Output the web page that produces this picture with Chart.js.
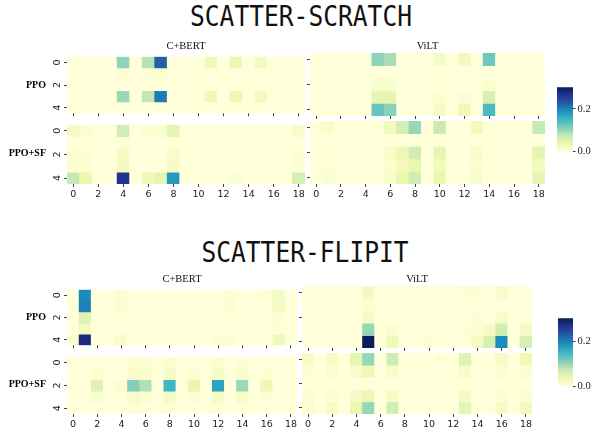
<!DOCTYPE html>
<html><head><meta charset="utf-8">
<script src="https://cdn.jsdelivr.net/npm/chart.js@4.4.1/dist/chart.umd.min.js"></script>
<style>
html,body{margin:0;padding:0;background:#fff;}
#root{position:relative;width:594px;height:430px;overflow:hidden;background:#fff;}
canvas{position:absolute;}
.t{position:absolute;white-space:nowrap;line-height:1;color:#111;}
.title{font-family:'DejaVu Sans Mono';font-size:27.5px;}
.sub{font-family:'Liberation Serif';font-size:10.5px;}
.row{font-family:'Liberation Serif';font-weight:bold;font-size:10px;color:#000;}
</style></head>
<body><div id="root"></div>
<script>
// ---------------- data ----------------
const colLabels = ['0','1','2','3','4','5','6','7','8','9','10','11','12','13','14','15','16','17','18'];
const rowTickRows = [0, 2, 4];
const cbarTicks = [0.0, 0.2];
const VMAX = 0.3;

const scratchBertPPO = [
 [0,0,0,0,0.104,0,0.084,0.223,0,0,0,0.030,0,0.035,0,0.025,0,0,0],
 [0,0,0,0,0.005,0,0.005,0.010,0,0,0,0,0,0,0,0,0,0,0],
 [0,0,0,0,0,0,0,0,0,0,0,0,0,0,0,0,0,0,0],
 [0,0,0,0,0.098,0,0.078,0.205,0,0,0,0.030,0,0.035,0,0.025,0,0,0],
 [0,0,0,0,0,0,0,0,0,0,0,0,0,0,0,0,0,0,0]
];
const scratchBertSF = [
 [0.020,0.010,0,0,0.065,0,0.008,0.010,0.045,0,0,0,0,0,0,0,0,0,0.015],
 [0,0,0,0,0.003,0,0,0,0,0,0,0,0,0,0,0,0,0,0],
 [0.008,0.005,0,0,0.020,0,0,0,0.015,0,0,0,0,0,0,0,0,0,0.005],
 [0.008,0.008,0,0,0.025,0,0,0,0.020,0,0,0,0,0,0,0,0,0,0.003],
 [0.075,0.040,0,0,0.265,0,0.030,0.045,0.180,0,0,0,0,0.008,0,0,0,0,0.060]
];
const scratchVilPPO = [
 [0,0,0,0,0,0.105,0.091,0,0,0,0.020,0,0.025,0,0.123,0,0,0,0],
 [0,0,0,0,0,0,0,0,0,0,0,0,0,0,0,0,0,0,0],
 [0,0,0,0,0,0.012,0.012,0,0,0,0,0,0,0,0.010,0,0,0,0],
 [0,0,0,0,0,0.045,0.045,0,0,0,0.008,0,0.008,0,0.060,0,0,0,0],
 [0,0,0,0,0,0.127,0.107,0,0,0,0.020,0,0.030,0,0.143,0,0,0,0]
];
const scratchVilSF = [
 [0.005,0.012,0,0,0,0,0.025,0.060,0.100,0,0.070,0,0,0.028,0,0,0,0,0.075],
 [0,0,0,0,0,0,0,0,0,0,0,0,0,0,0,0,0,0,0],
 [0,0.005,0,0,0,0,0.015,0.035,0.065,0,0.045,0,0,0.015,0,0,0,0,0.045],
 [0,0.005,0,0,0,0,0.010,0.025,0.040,0,0.025,0,0,0.010,0,0,0,0,0.025],
 [0,0.008,0,0,0,0,0.015,0.040,0.065,0,0.040,0,0,0.015,0,0,0,0,0.045]
];
const flipBertPPO = [
 [0,0.193,0,0,0.010,0,0,0,0,0,0,0,0,0.005,0,0,0.005,0.020,0],
 [0,0.200,0,0,0.010,0,0,0,0,0,0,0,0,0.008,0,0,0,0.020,0],
 [0,0.050,0,0,0,0,0,0,0,0,0,0,0,0,0,0,0,0.005,0],
 [0,0.025,0,0,0,0,0,0,0,0,0,0,0,0,0,0,0,0.003,0],
 [0.010,0.277,0,0,0.015,0,0,0,0,0,0,0,0.008,0.008,0,0,0,0.030,0]
];
const flipBertSF = [
 [0,0,0,0,0,0.008,0.008,0,0.010,0,0,0,0.010,0,0.005,0,0,0,0],
 [0,0,0.008,0,0,0.015,0.015,0,0.020,0,0.008,0,0.020,0,0.015,0,0.005,0,0],
 [0,0,0.054,0,0.010,0.110,0.086,0,0.150,0,0.040,0,0.170,0,0.098,0,0.033,0,0],
 [0,0,0.010,0,0,0.015,0.010,0,0.020,0,0.008,0,0.020,0,0.015,0,0.005,0,0],
 [0,0,0,0,0,0.005,0,0,0.005,0,0,0,0.005,0,0,0,0,0,0]
];
const flipVilPPO = [
 [0,0,0,0,0,0.025,0,0,0,0,0,0,0,0.003,0.005,0,0.015,0,0],
 [0,0,0,0,0,0.005,0,0,0,0,0,0,0,0,0,0,0,0,0],
 [0,0,0,0,0,0.020,0,0,0,0,0,0,0,0,0.005,0,0.015,0,0],
 [0,0,0,0,0,0.100,0,0.010,0,0,0,0,0,0.003,0.010,0.020,0.065,0,0.020],
 [0,0,0,0,0,0.298,0,0.030,0,0,0.005,0,0,0,0.020,0.060,0.192,0,0.060]
];
const flipVilSF = [
 [0.015,0,0.020,0,0.045,0.100,0,0.067,0,0,0,0.008,0,0.050,0,0,0.020,0,0.030],
 [0.005,0,0.010,0,0.015,0.030,0,0.015,0,0,0,0,0,0.015,0,0,0.010,0,0.008],
 [0,0,0,0,0,0,0,0,0,0,0,0,0,0,0,0,0,0,0],
 [0.008,0,0.008,0,0.020,0.035,0,0.020,0,0,0,0,0,0.020,0,0,0.008,0,0.008],
 [0.010,0,0.020,0,0.040,0.100,0,0.065,0,0,0,0,0,0.045,0,0,0.020,0,0.025]
];

// ---------------- colormap ----------------
const CMAP = ['#ffffd9','#edf8b1','#c7e9b4','#7fcdbb','#41b6c4','#1d91c0','#225ea8','#253494','#081d58'];
const CM = CMAP.map(h => [parseInt(h.slice(1,3),16), parseInt(h.slice(3,5),16), parseInt(h.slice(5,7),16)]);
function colorFor(v){
  let t = Math.max(0, Math.min(1, v / VMAX)) * (CM.length - 1);
  let i = Math.min(Math.floor(t), CM.length - 2);
  let f = t - i; const a = CM[i], b = CM[i+1];
  return 'rgb(' + [0,1,2].map(k => Math.round(a[k] + (b[k]-a[k]) * f)).join(',') + ')';
}

const root = document.getElementById('root');
const TICKFONT = {family: 'DejaVu Sans', size: 9.5};
const TICKCOL = '#444';

function addCanvas(left, top, w, h){
  const c = document.createElement('canvas');
  c.width = w; c.height = h;
  c.style.left = left + 'px'; c.style.top = top + 'px';
  c.style.width = w + 'px'; c.style.height = h + 'px';
  root.appendChild(c);
  return c;
}

function makeHeat(values, L, T, R, B, showY, showX){
  const ML = 22, MT = 8, MR = 8, MB = showX ? 20 : 9;
  const c = addCanvas(L - ML, T - MT, R - L + ML + MR, B - T + MT + MB);
  new Chart(c, {
    type: 'bar',
    data: {
      labels: colLabels,
      datasets: values.map(row => ({
        data: row.map(() => 1),
        backgroundColor: row.map(colorFor),
        borderWidth: 0, barPercentage: 1, categoryPercentage: 1
      }))
    },
    options: {
      responsive: false, animation: false, events: [],
      layout: {padding: {left: 0, top: MT, right: MR, bottom: 0}},
      plugins: {legend: {display: false}, tooltip: {enabled: false}},
      scales: {
        x: {
          type: 'category', stacked: true, offset: true,
          grid: {display: true, offset: false, drawOnChartArea: false, drawTicks: true, tickLength: 3, color: TICKCOL, lineWidth: 1},
          border: {display: false},
          ticks: {display: showX, autoSkip: false, minRotation: 0, maxRotation: 0, padding: 2, font: TICKFONT, color: '#222'},
          afterBuildTicks: s => { s.ticks = s.ticks.filter(t => t.value % 2 === 0); },
          afterFit: s => { s.height = MB; }
        },
        y: {
          type: 'linear', stacked: true, min: 0, max: 5, reverse: true,
          grid: {display: true, drawOnChartArea: false, drawTicks: true, tickLength: 3, color: TICKCOL, lineWidth: 1},
          border: {display: false},
          ticks: {display: showY, minRotation: 90, maxRotation: 90, padding: 6, labelOffset: -3, font: TICKFONT, color: '#222',
                  callback: v => String(Math.round(v - 0.5))},
          afterBuildTicks: s => { s.ticks = rowTickRows.map(r => ({value: r + 0.5})); },
          afterFit: s => { s.width = ML; }
        }
      }
    }
  });
}

function makeCbar(L, T, R, B){
  const MW = 30, MT = 8, MB = 8;
  const c = addCanvas(L, T - MT, R - L + MW, B - T + MT + MB);
  new Chart(c, {
    type: 'bar',
    data: {labels: [''], datasets: [{
      data: [[0, VMAX]], borderWidth: 0, barPercentage: 1, categoryPercentage: 1,
      backgroundColor: ctx => {
        const area = ctx.chart.chartArea;
        if (!area) return CMAP[0];
        const g = ctx.chart.ctx.createLinearGradient(0, area.bottom, 0, area.top);
        CMAP.forEach((col, i) => g.addColorStop(i / (CMAP.length - 1), col));
        return g;
      }
    }]},
    options: {
      responsive: false, animation: false, events: [],
      layout: {padding: {left: 0, top: MT, right: 0, bottom: MB}},
      plugins: {legend: {display: false}, tooltip: {enabled: false}},
      scales: {
        x: {display: false, offset: true},
        y: {
          position: 'right', min: 0, max: VMAX,
          grid: {display: true, drawOnChartArea: false, drawTicks: true, tickLength: 2.5, color: '#333', lineWidth: 1},
          border: {display: false},
          ticks: {padding: 2, font: {family: 'Liberation Serif', size: 10.5}, color: '#222', callback: v => v.toFixed(1)},
          afterBuildTicks: s => { s.ticks = cbarTicks.map(v => ({value: v})); },
          afterFit: s => { s.width = MW; }
        }
      }
    }
  });
}

function addText(cls, text, x, y, align, extra){
  const d = document.createElement('div');
  d.className = 't ' + cls;
  d.textContent = text;
  root.appendChild(d);
  const fs = parseFloat(getComputedStyle(d).fontSize);
  d.style.top = (y - fs * 0.5) + 'px';
  d.style.left = x + 'px';
  let tx = align === 'right' ? 'translateX(-100%)' : 'translateX(-50%)';
  d.style.transform = tx + (extra || '');
  d.style.transformOrigin = 'left center';
  return d;
}

// ---------------- layout ----------------
// top block: SCATTER-SCRATCH
makeHeat(scratchBertPPO, 67, 53, 305, 116, true, false);
makeHeat(scratchBertSF, 67, 121, 305, 184, true, true);
makeHeat(scratchVilPPO, 310, 53, 545, 116, false, false);
makeHeat(scratchVilSF, 310, 121, 545, 184, false, true);
makeCbar(557, 87, 573, 152);
// bottom block: SCATTER-FLIPIT
makeHeat(flipBertPPO, 67, 286, 297, 348, true, false);
makeHeat(flipBertSF, 67, 353, 297, 414, true, true);
makeHeat(flipVilPPO, 302, 286, 532, 348, false, false);
makeHeat(flipVilSF, 302, 353, 532, 414, false, true);
makeCbar(558, 318, 573, 387);

// titles & labels
function title(text, cx, cy){
  const d = document.createElement('div');
  d.className = 't title'; d.textContent = text; root.appendChild(d);
  d.style.top = (cy - 27.5 * 0.48) + 'px';
  d.style.left = cx + 'px';
  d.style.transform = 'translateX(-50%) scaleX(0.894)';
  d.style.transformOrigin = 'center center';
}
title('SCATTER-SCRATCH', 300.5, 16);
title('SCATTER-FLIPIT', 305, 252.3);
addText('sub', 'C+BERT', 186, 46, 'center');
addText('sub', 'ViLT', 427.5, 46, 'center');
addText('sub', 'C+BERT', 182, 279.5, 'center');
addText('sub', 'ViLT', 417, 279.5, 'center');
addText('row', 'PPO', 46, 84.5, 'right');
addText('row', 'PPO+SF', 46, 152.5, 'right');
addText('row', 'PPO', 46, 317, 'right');
addText('row', 'PPO+SF', 46, 383.5, 'right');
</script>
</body></html>
